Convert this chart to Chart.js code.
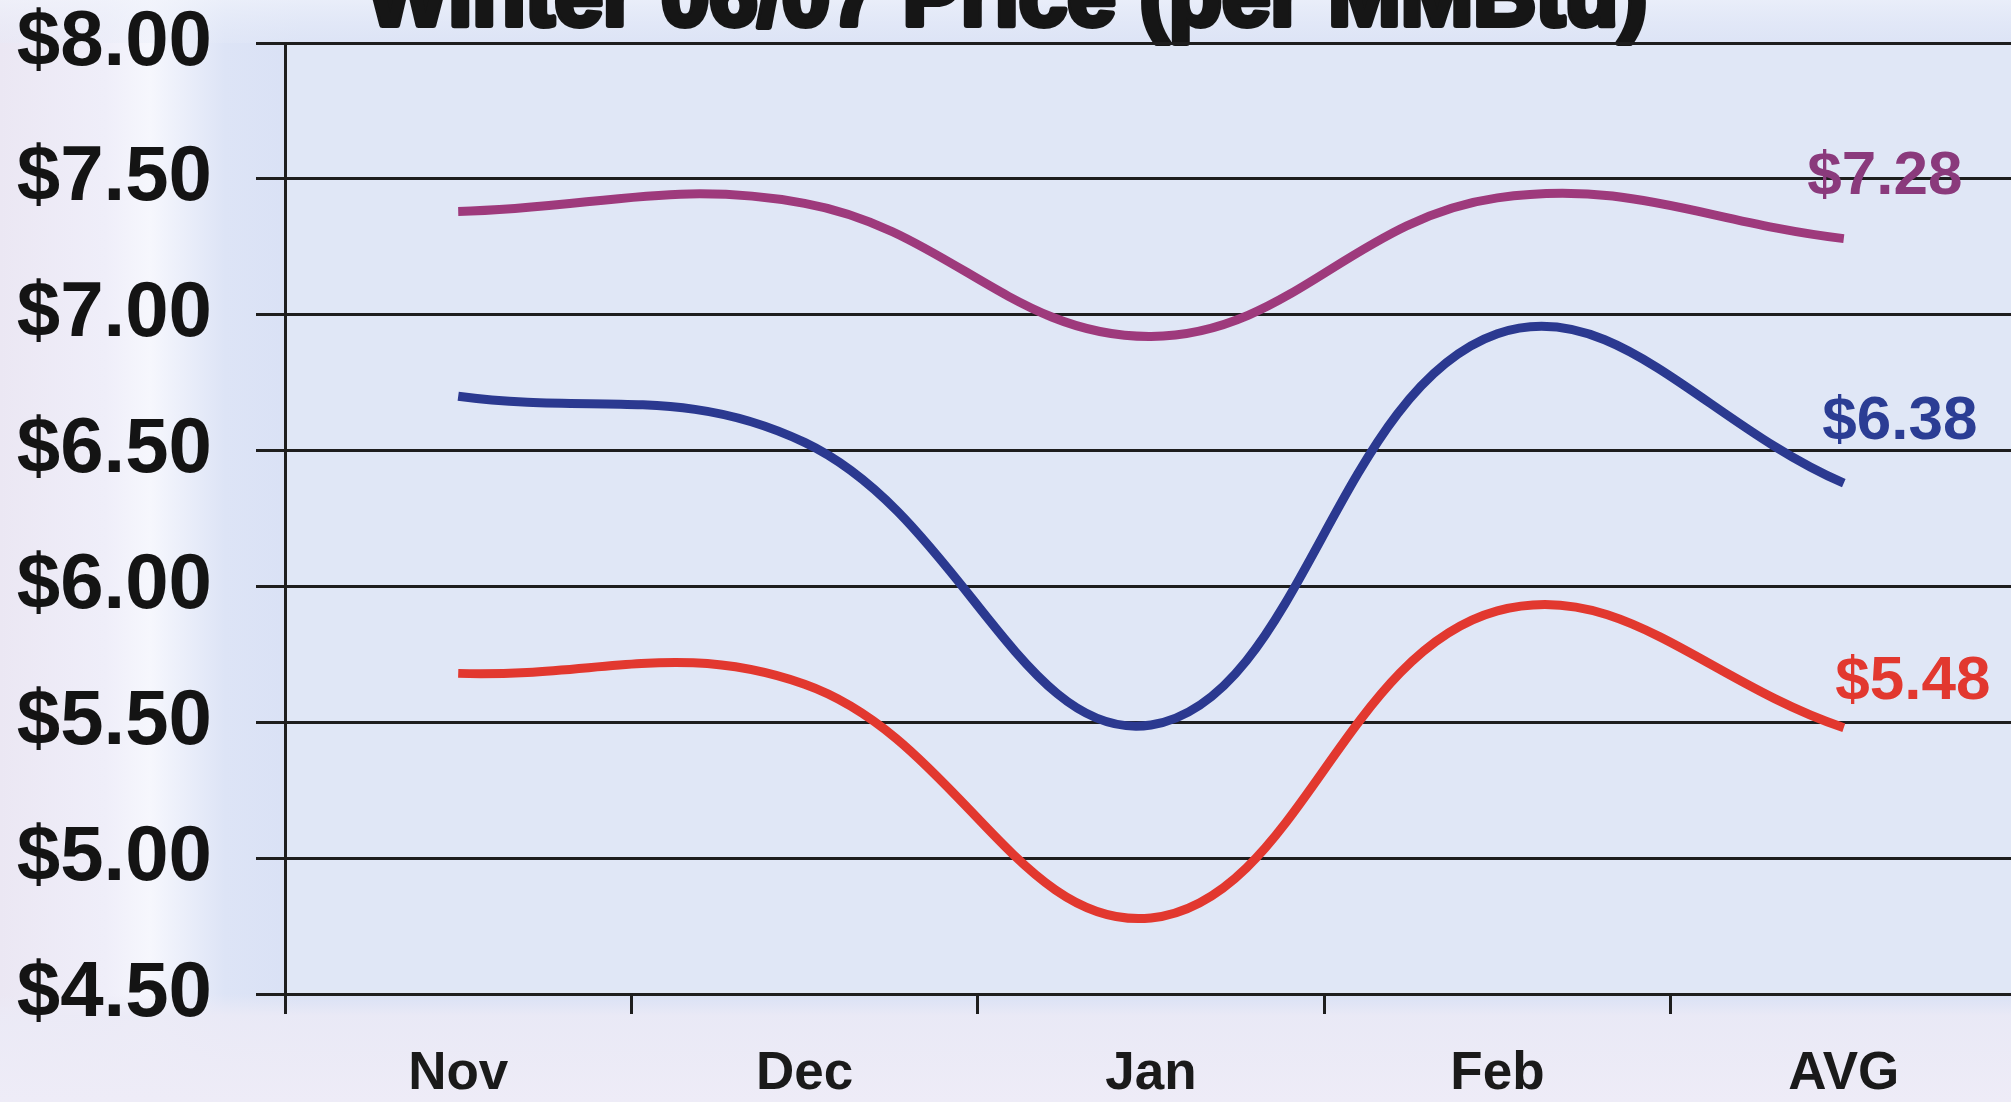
<!DOCTYPE html>
<html>
<head>
<meta charset="utf-8">
<script src="https://cdn.jsdelivr.net/npm/chart.js@4/dist/chart.umd.min.js"></script>
<style>
html,body{margin:0;padding:0;overflow:hidden;background:#e6e9f6;}
#wrap{position:absolute;left:0;top:0;width:2020px;height:1102px;}
</style>
</head>
<body>
<div id="wrap"><canvas id="c" width="2020" height="1102"></canvas></div>
<script>
const titleText = "Winter 06/07 Price (per MMBtu)";
const categories = ["Nov", "Dec", "Jan", "Feb", "AVG"];
const seriesA = [7.38, 7.41, 6.92, 7.43, 7.28];   // purple
const seriesB = [6.70, 6.53, 5.49, 6.93, 6.38];   // blue
const seriesC = [5.68, 5.64, 4.78, 5.91, 5.48];   // red
const endLabels = ["$7.28", "$6.38", "$5.48"];
const yMin = 4.5, yMax = 8.0, yStep = 0.5;

const colors = ["#9e3a7c", "#2b3990", "#e2382f"];
const labelColors = ["#8a3a7c", "#2b3d94", "#e2382f"];
const labelOffsets = [[41, -62], [56, -61], [69, -46]];

const bgPlugin = {
  id: 'bg',
  beforeDraw(chart) {
    const ctx = chart.ctx, a = chart.chartArea;
    ctx.save();
    const g = ctx.createLinearGradient(0, 0, 300, 0);
    g.addColorStop(0, '#ebe7f3');
    g.addColorStop(0.35, '#efeef9');
    g.addColorStop(0.5, '#f6f7fd');
    g.addColorStop(0.75, '#dde4f6');
    g.addColorStop(1, '#d9e1f5');
    ctx.fillStyle = g;
    ctx.fillRect(0, 0, chart.width, chart.height);
    const g2 = ctx.createLinearGradient(0, a.bottom, 0, chart.height);
    g2.addColorStop(0, 'rgba(235,234,246,0.0)');
    g2.addColorStop(0.2, 'rgba(235,234,246,0.9)');
    g2.addColorStop(1, 'rgba(238,236,247,1)');
    ctx.fillStyle = g2;
    ctx.fillRect(0, a.bottom, chart.width, chart.height - a.bottom);
    const g3 = ctx.createLinearGradient(0, 0, 0, a.top);
    g3.addColorStop(0, 'rgba(240,243,251,0.7)');
    g3.addColorStop(1, 'rgba(230,235,248,0.3)');
    ctx.fillStyle = g3;
    ctx.fillRect(0, 0, chart.width, a.top);
    ctx.fillStyle = '#e0e7f6';
    ctx.fillRect(a.left, a.top, a.right - a.left, a.bottom - a.top);
    // title (clipped at top)
    ctx.font = 'bold 100px "Liberation Sans", Arial, sans-serif';
    const w = ctx.measureText(titleText).width;
    const size = 100 * 1280 / w;
    ctx.font = 'bold ' + size.toFixed(1) + 'px "Liberation Sans", Arial, sans-serif';
    ctx.textAlign = 'center';
    ctx.textBaseline = 'alphabetic';
    ctx.fillStyle = '#161616';
    ctx.strokeStyle = '#161616';
    ctx.lineWidth = 6;
    ctx.lineJoin = 'round';
    ctx.strokeText(titleText, 1007, 25);
    ctx.fillText(titleText, 1007, 25);
    ctx.restore();
  }
};

const endLabelPlugin = {
  id: 'endLabels',
  afterDatasetsDraw(chart) {
    const ctx = chart.ctx;
    ctx.save();
    ctx.font = 'bold 62px "Liberation Sans", Arial, sans-serif';
    ctx.textAlign = 'center';
    ctx.textBaseline = 'middle';
    chart.data.datasets.forEach((ds, i) => {
      const meta = chart.getDatasetMeta(i);
      const p = meta.data[meta.data.length - 1];
      ctx.fillStyle = labelColors[i];
      ctx.fillText(endLabels[i], p.x + labelOffsets[i][0], p.y + labelOffsets[i][1]);
    });
    ctx.restore();
  }
};

const mkDs = (data, i) => ({
  data: data,
  borderColor: colors[i],
  borderWidth: 9,
  pointRadius: 0,
  pointHoverRadius: 0,
  tension: 0.4,
  fill: false,
  borderCapStyle: 'butt',
  borderJoinStyle: 'round'
});

new Chart(document.getElementById('c'), {
  type: 'line',
  data: {
    labels: categories,
    datasets: [mkDs(seriesA, 0), mkDs(seriesB, 1), mkDs(seriesC, 2)]
  },
  options: {
    responsive: false,
    animation: false,
    events: [],
    layout: { padding: { top: 0, right: 3, left: 0, bottom: 0 } },
    plugins: { legend: { display: false }, tooltip: { enabled: false }, title: { display: false } },
    scales: {
      x: {
        type: 'category',
        offset: true,
        grid: { offset: true, drawOnChartArea: false, drawTicks: true, tickLength: 20, color: '#1e1e1e', lineWidth: 3 },
        border: { display: true, color: '#1e1e1e', width: 3 },
        ticks: {
          color: '#1a1a1a',
          padding: 34,
          font: { family: '"Liberation Sans", Arial, sans-serif', size: 53, weight: 'bold', lineHeight: 1 },
          maxRotation: 0, autoSkip: false
        },
        afterFit(scale) { scale.height = 108; }
      },
      y: {
        min: yMin, max: yMax,
        grid: { drawOnChartArea: true, drawTicks: true, tickLength: 29, color: '#1e1e1e', lineWidth: 3 },
        border: { display: true, color: '#1e1e1e', width: 3 },
        ticks: {
          stepSize: yStep,
          color: '#141414',
          padding: 44,
          font: { family: '"Liberation Sans", Arial, sans-serif', size: 78, weight: 'bold', lineHeight: 1 },
          callback: v => '$' + Number(v).toFixed(2)
        },
        afterFit(scale) { scale.width = 285; scale.paddingTop = 43; scale.paddingBottom = 39; }
      }
    }
  },
  plugins: [bgPlugin, endLabelPlugin]
});
</script>
</body>
</html>
